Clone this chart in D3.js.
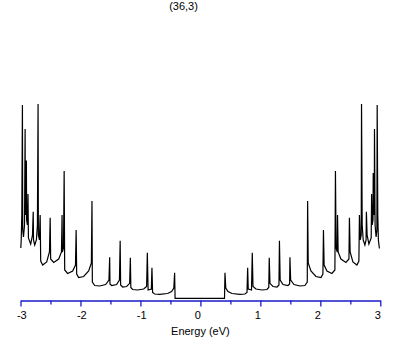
<!DOCTYPE html>
<html>
<head>
<meta charset="utf-8">
<script src="https://cdn.jsdelivr.net/npm/d3@7"></script>
<style>
  html, body { margin: 0; padding: 0; background: #fff; }
  svg { display: block; }
  text { font-family: "Liberation Sans", Arial, sans-serif; }
</style>
</head>
<body>
<svg id="chart" width="409" height="345"></svg>
<script>
// ---- Data ----
const title = "(36,3)";
const xLabel = "Energy (eV)";
const majorTicks = [-3, -2, -1, 0, 1, 2, 3];
const minorTicks = [-2.5, -1.5, -0.5, 0.5, 1.5, 2.5];

// Density of states trace, E < 0 side (eV, arbitrary DOS units)
const energyNeg = [
  -2.995, -2.988, -2.978, -2.968, -2.963, -2.950, -2.933, -2.923, -2.920, -2.912,
  -2.902, -2.898, -2.885, -2.875, -2.868, -2.830, -2.800, -2.788, -2.783, -2.763,
  -2.735, -2.718, -2.707, -2.702, -2.685, -2.672, -2.663, -2.630, -2.563, -2.517,
  -2.505, -2.497, -2.447, -2.363, -2.317, -2.307, -2.302, -2.283, -2.272, -2.263,
  -2.213, -2.130, -2.083, -2.072, -2.063, -2.030, -1.947, -1.863, -1.818, -1.808,
  -1.802, -1.763, -1.680, -1.580, -1.525, -1.513, -1.508, -1.480, -1.397, -1.350,
  -1.338, -1.330, -1.297, -1.230, -1.180, -1.168, -1.160, -1.130, -1.047, -0.947,
  -0.897, -0.885, -0.872, -0.818, -0.808, -0.797, -0.763, -0.680, -0.547, -0.480,
  -0.443, -0.430, -0.422
];
const dosNeg = [
  0.525, 0.605, 0.855, 1.955, 0.705, 0.635, 0.755, 1.715, 1.005, 0.855,
  1.400, 0.805, 0.755, 1.065, 0.625, 0.565, 0.655, 0.888, 0.605, 0.555,
  0.605, 0.755, 1.965, 0.655, 0.605, 0.855, 0.395, 0.355, 0.385, 0.485,
  0.828, 0.415, 0.380, 0.415, 0.485, 0.855, 0.485, 0.525, 1.295, 0.305,
  0.270, 0.295, 0.355, 0.705, 0.265, 0.230, 0.240, 0.295, 0.375, 0.995,
  0.185, 0.150, 0.145, 0.160, 0.205, 0.432, 0.165, 0.150, 0.160, 0.205,
  0.598, 0.155, 0.135, 0.140, 0.172, 0.428, 0.130, 0.110, 0.105, 0.115,
  0.140, 0.478, 0.105, 0.115, 0.328, 0.080, 0.065, 0.062, 0.070, 0.090,
  0.125, 0.278, 0.022
];

// Density of states trace, E > 0 side
const energyPos = [
  0.402, 0.410, 0.423, 0.460, 0.527, 0.660, 0.743, 0.777, 0.788, 0.798,
  0.852, 0.865, 0.877, 0.927, 1.027, 1.110, 1.140, 1.148, 1.160, 1.210,
  1.277, 1.310, 1.318, 1.330, 1.377, 1.460, 1.488, 1.493, 1.505, 1.560,
  1.660, 1.743, 1.782, 1.788, 1.798, 1.843, 1.927, 2.010, 2.043, 2.052,
  2.063, 2.110, 2.193, 2.243, 2.252, 2.263, 2.282, 2.287, 2.297, 2.343,
  2.427, 2.477, 2.485, 2.497, 2.543, 2.610, 2.643, 2.652, 2.665, 2.682,
  2.687, 2.698, 2.715, 2.743, 2.763, 2.768, 2.780, 2.810, 2.848, 2.855,
  2.865, 2.878, 2.882, 2.892, 2.900, 2.903, 2.913, 2.930, 2.943, 2.948,
  2.958, 2.968, 2.985
];
const dosPos = [
  0.022, 0.278, 0.125, 0.090, 0.070, 0.062, 0.065, 0.080, 0.328, 0.115,
  0.105, 0.478, 0.140, 0.115, 0.105, 0.110, 0.130, 0.428, 0.172, 0.140,
  0.135, 0.155, 0.598, 0.205, 0.160, 0.150, 0.165, 0.432, 0.205, 0.160,
  0.145, 0.150, 0.185, 0.995, 0.375, 0.295, 0.240, 0.230, 0.265, 0.705,
  0.355, 0.295, 0.270, 0.305, 1.295, 0.525, 0.485, 0.855, 0.485, 0.415,
  0.380, 0.415, 0.828, 0.485, 0.385, 0.355, 0.395, 0.855, 0.605, 0.655,
  1.965, 0.755, 0.605, 0.555, 0.605, 0.888, 0.655, 0.565, 0.625, 1.065,
  0.755, 0.805, 1.275, 0.855, 1.005, 1.715, 0.755, 0.635, 0.705, 1.955,
  0.855, 0.605, 0.520
];

// ---- Drawing ----
const svg = d3.select("#chart");
const x = d3.scaleLinear().domain([-3, 3]).range([20.5, 380.3]);
const y = d3.scaleLinear().domain([0, 2]).range([300.5, 100.5]);

const energy = energyNeg.concat(energyPos);
const dos = dosNeg.concat(dosPos);
const pts = energy.map((e, i) => [e, dos[i]]);

const line = d3.line().x(d => x(d[0])).y(d => y(d[1]));
svg.append("path")
  .attr("d", line(pts))
  .attr("fill", "none")
  .attr("stroke", "#000")
  .attr("stroke-width", 1.2);

// Axis
const axisColor = "#1a1acc";
const axisG = svg.append("g").attr("transform", "translate(0,300.5)");
const axis = d3.axisBottom(x)
  .tickValues(majorTicks)
  .tickSize(6)
  .tickSizeOuter(0)
  .tickPadding(5)
  .tickFormat(d => (d < 0 ? "-" : "") + Math.abs(d));
axisG.call(axis);
axisG.select(".domain").attr("stroke", axisColor).attr("stroke-width", 1.3);
axisG.selectAll(".tick line").attr("stroke", axisColor).attr("stroke-width", 1.3);
axisG.selectAll(".tick text")
  .attr("fill", "#000")
  .attr("font-size", 11)
  .attr("font-family", "Liberation Sans, Arial, sans-serif")
  .attr("dx", d => d < 0 ? 0.8 : -3);

const minorG = svg.append("g").attr("transform", "translate(0,300.5)");
minorG.call(d3.axisBottom(x).tickValues(minorTicks).tickSize(4).tickFormat(""));
minorG.select(".domain").remove();
minorG.selectAll(".tick line").attr("stroke", axisColor).attr("stroke-width", 1.3);

svg.append("text")
  .attr("x", x(0))
  .attr("y", 335)
  .attr("text-anchor", "middle")
  .attr("font-size", 11)
  .text(xLabel);

svg.append("text")
  .attr("x", 183.5)
  .attr("y", 9.5)
  .attr("text-anchor", "middle")
  .attr("font-size", 11)
  .text(title);
</script>
</body>
</html>
